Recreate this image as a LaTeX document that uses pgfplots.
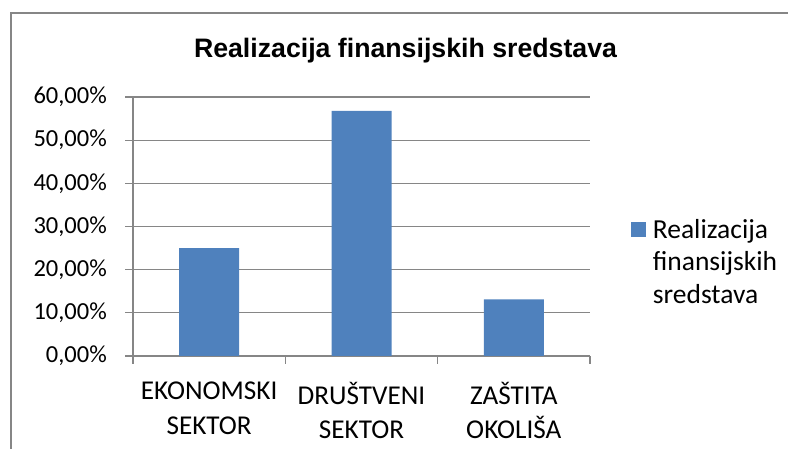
\documentclass[border=0pt]{standalone}
\usepackage{pgfplots}
\pgfplotsset{compat=1.18}
\usepackage{fontspec}
\setmainfont{Carlito}
\newfontfamily\titlefont{Liberation Sans}
\definecolor{barblue}{HTML}{4F81BD}
\definecolor{gridgray}{HTML}{868686}
\begin{document}
\begin{tikzpicture}[x=1bp,y=1bp]
\path[use as bounding box] (0,0) rectangle (788,449);
\draw[gridgray, line width=1.3bp] (11,-5) -- (11,436) -- (795,436);
\node[anchor=base, inner sep=0pt, font=\titlefont\bfseries\fontsize{26.7bp}{31bp}\selectfont] at (405.5,391) {Realizacija finansijskih sredstava};
\begin{axis}[
  at={(133bp,93bp)}, anchor=south west,
  scale only axis, width=457bp, height=259bp,
  xmin=-0.5, xmax=2.5, ymin=0, ymax=60,
  axis x line*=bottom, axis y line*=left,
  axis line style={gridgray, line width=1.3bp, -},
  ytick={0,10,20,30,40,50,60},
  yticklabels={{0,00\%},{10,00\%},{20,00\%},{30,00\%},{40,00\%},{50,00\%},{60,00\%}},
  xtick={0,1,2},
  xticklabels={EKONOMSKI\\SEKTOR, DRUŠTVENI\\SEKTOR, ZAŠTITA\\OKOLIŠA},
  x tick label style={align=center, inner sep=0pt, yshift=-18bp, font=\fontsize{27.2bp}{34.5bp}\selectfont},
  y tick label style={inner sep=0pt, xshift=-18bp, font=\fontsize{24.5bp}{30bp}\selectfont},
  major x tick style={draw=none},
  major y tick style={gridgray, line width=1.3bp},
  tick align=outside, major tick length=8bp,
  extra x ticks={-0.5,0.5,1.5,2.5},
  extra x tick labels={},
  extra x tick style={grid=none, major tick length=8bp, major x tick style={draw=gridgray, line width=1.3bp}},
  ymajorgrids, grid style={gridgray, line width=1.3bp},
  legend style={at={(1.089,0.363)}, anchor=west, draw=none, fill=none, inner sep=0pt,
    font=\fontsize{27.5bp}{32.5bp}\selectfont, nodes={align=left, inner sep=2bp}},
  legend cell align=left,
  legend image code/.code={\fill[barblue] (0bp,25bp) rectangle (15bp,40bp); \path (20bp,32bp);},
]
\addplot[ybar, bar width=60bp, fill=barblue, draw=none, bar shift=0pt] coordinates {(0,25) (1,56.8) (2,13.1)};
\addlegendentry{Realizacija\\finansijskih\\sredstava}
\end{axis}
\end{tikzpicture}
\end{document}
